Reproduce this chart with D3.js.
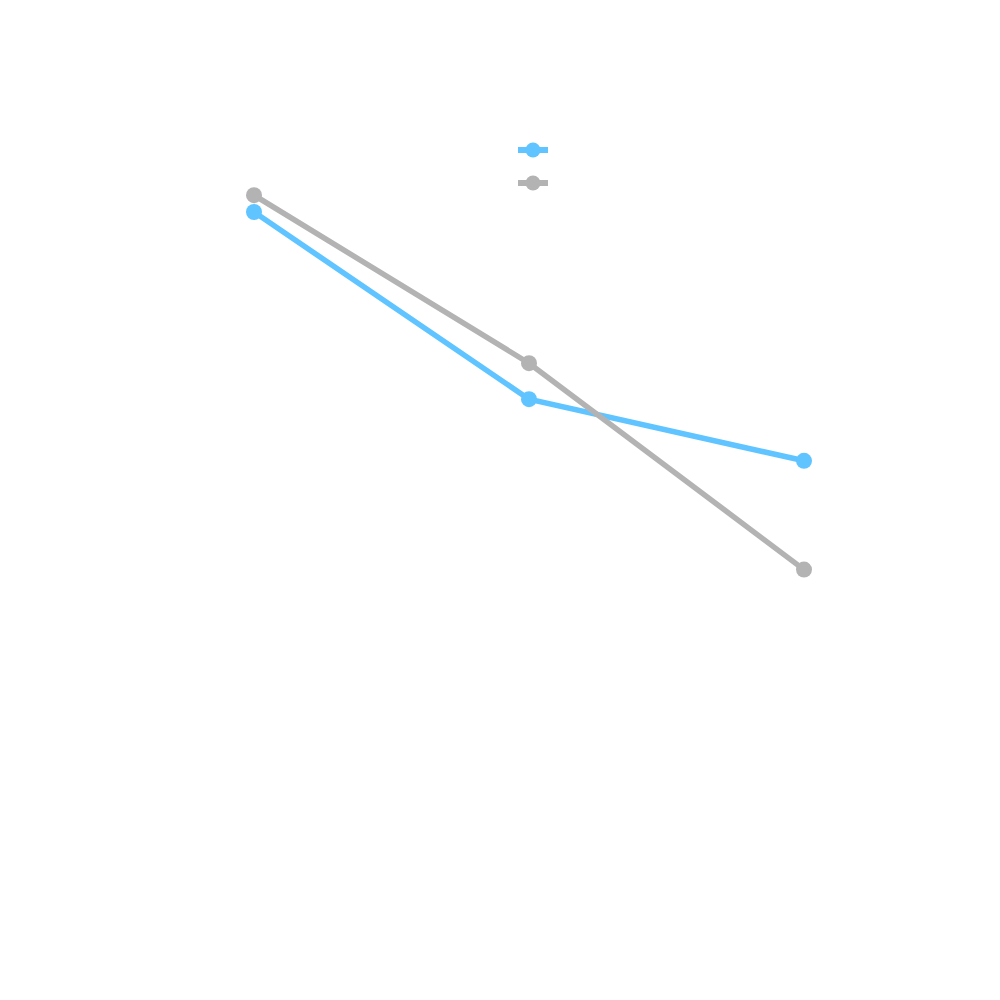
<!DOCTYPE html>
<html>
<head>
<meta charset="utf-8">
<script src="https://cdn.jsdelivr.net/npm/d3@7"></script>
<style>
  body { margin: 0; background: #fff; }
</style>
</head>
<body>
<svg id="chart"></svg>
<script>
// categories along x (no labels are drawn in the reference)
var categories = ["t1", "t2", "t3"];

// series values
var blueValues = [86.0, 62.6, 54.9];
var greyValues = [88.1, 67.1, 41.3];

var seriesNames = ["blue", "grey"];
var seriesColors = ["#5fc4ff", "#b3b3b3"];

var width = 1000;
var height = 1000;

var svg = d3.select("#chart")
	.attr("width", width)
	.attr("height", height);

var x = d3.scalePoint()
	.domain(categories)
	.range([254, 804]);

var y = d3.scaleLinear()
	.domain([0, 100])
	.range([900, 100]);

var series = [
	{name: seriesNames[0], color: seriesColors[0], values: blueValues},
	{name: seriesNames[1], color: seriesColors[1], values: greyValues}
];

var line = d3.line()
	.x(function(d, i) { return x(categories[i]); })
	.y(function(d) { return y(d); });

var g = svg.selectAll("g.series")
	.data(series)
	.enter()
	.append("g")
	.attr("class", "series");

g.append("path")
	.attr("d", function(d) { return line(d.values); })
	.attr("fill", "none")
	.attr("stroke", function(d) { return d.color; })
	.attr("stroke-width", 5.5);

g.selectAll("circle")
	.data(function(d) { return d.values.map(function(v, i) { return {v: v, i: i, color: d.color}; }); })
	.enter()
	.append("circle")
	.attr("cx", function(d) { return x(categories[d.i]); })
	.attr("cy", function(d) { return y(d.v); })
	.attr("r", 8)
	.attr("fill", function(d) { return d.color; });

// legend, symbols only
var legend = svg.append("g")
	.attr("transform", "translate(533,150)");

var item = legend.selectAll("g")
	.data(series)
	.enter()
	.append("g")
	.attr("transform", function(d, i) { return "translate(0," + (i * 33) + ")"; });

item.append("line")
	.attr("x1", -15).attr("x2", 15)
	.attr("stroke", function(d) { return d.color; })
	.attr("stroke-width", 6);

item.append("circle")
	.attr("r", 7.5)
	.attr("fill", function(d) { return d.color; });
</script>
</body>
</html>
